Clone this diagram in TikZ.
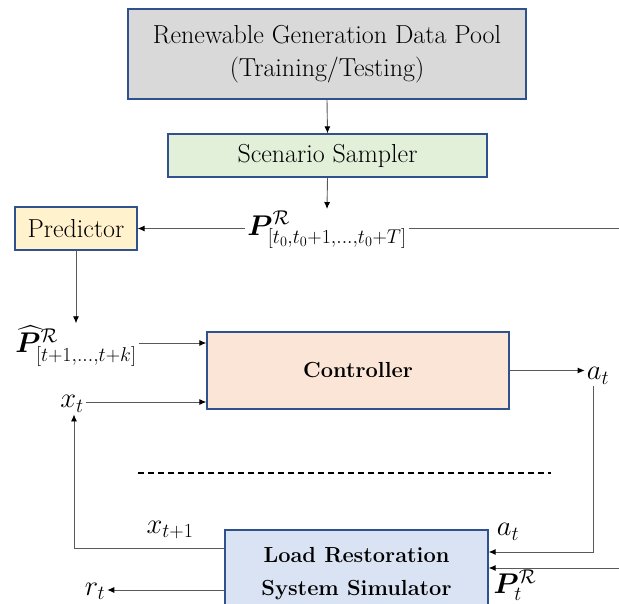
\RequirePackage{fix-cm}
\documentclass[tikz,border=0pt]{standalone}
\usepackage{amsmath,bm}
\usetikzlibrary{arrows.meta,calc}
\definecolor{edgeblue}{HTML}{2F528F}
\definecolor{poolgray}{HTML}{D9D9D9}
\definecolor{samgreen}{HTML}{E2F0D9}
\definecolor{predyellow}{HTML}{FFF2CC}
\definecolor{ctrlorange}{HTML}{FBE5D6}
\definecolor{simblue}{HTML}{DAE3F3}
\begin{document}
\begin{tikzpicture}[x=1pt,y=-1pt,
  box/.style={draw=edgeblue,line width=1.3pt,inner sep=0pt,align=center,font=\fontsize{26}{33}\selectfont},
  boldbox/.style={box,font=\fontsize{21.8}{33}\selectfont\bfseries},
  conn/.style={draw=black!65,line width=0.9pt},
  arr/.style={conn,-{Latex[length=7pt,width=6pt,black]}},
  lab/.style={inner sep=2pt,font=\fontsize{28.5}{30}\selectfont}]
\useasboundingbox (0,0) rectangle (619,604);
\clip (0,0) rectangle (619,604);

\node[box,fill=poolgray,minimum width=398pt,minimum height=90pt] (pool) at (327,54) {Renewable Generation Data Pool\\(Training/Testing)};
\node[box,fill=samgreen,minimum width=319pt,minimum height=43pt] (samp) at (327.5,155.5) {Scenario Sampler};
\node[box,fill=predyellow,minimum width=122pt,minimum height=43pt] (pred) at (76,228.5) {Predictor};
\node[lab] (pfull) at (327,230) {$\bm{P}^{\mathcal{R}}_{[t_0,t_0+1,\dots,t_0+T]}$};
\node[boldbox,fill=ctrlorange,minimum width=302pt,minimum height=77pt] (ctrl) at (358,370.5) {Controller};
\node[boldbox,fill=simblue,minimum width=263pt,minimum height=79pt] (sim) at (356.5,569.5) {\raisebox{-3pt}[\height][\depth]{\begin{tabular}{@{}c@{}}Load Restoration\\System Simulator\end{tabular}}};

\node[lab] (phat) at (76,346) {$\widehat{\bm{P}}^{\mathcal{R}}_{[t+1,\dots,t+k]}$};
\node[lab] (xt) at (72,404) {$x_t$};
\node[lab] (at1) at (598,376) {$a_t$};
\node[lab] (xt1) at (170,530) {$x_{t+1}$};
\node[lab] (at2) at (508,532) {$a_t$};
\node[lab] (rt) at (95,591) {$r_t$};
\node[lab] (pt) at (515,585) {$\bm{P}^{\mathcal{R}}_t$};

\coordinate (pright) at (619,228.5);
\coordinate (rc) at (593,552);
\coordinate (lc) at (74,548);
\coordinate (pin) at (619,568);

\draw[arr] (pool.south) -- (samp.north);
\draw[arr] (samp.south) -- (pfull.north);
\draw[arr] (pfull.west |- pred.east) -- (pred.east);
\draw[conn] (pfull.east |- pred.east) -- (pright);
\draw[arr] (pred.south) -- (phat.north);
\draw[arr] ([yshift=3pt]phat.east) -- ([yshift=3pt]phat.east -| ctrl.west);
\draw[arr] ([yshift=2pt]xt.east) -- ([yshift=2pt]xt.east -| ctrl.west);
\draw[arr] (ctrl.east) -- (ctrl.east -| at1.west);
\draw[arr] (at1.south -| rc) -- (rc) -- (rc -| sim.east);
\draw[arr] (sim.west |- lc) -- (lc) -- (lc |- xt.south);
\draw[arr] ([yshift=1pt]sim.west |- rt) -- ([yshift=1pt]rt.east);
\draw[arr] (pin) -- (pin -| sim.east);
\draw[line width=1.2pt,dash pattern=on 6pt off 4pt] (138,473) -- (551,473);
\end{tikzpicture}
\end{document}
